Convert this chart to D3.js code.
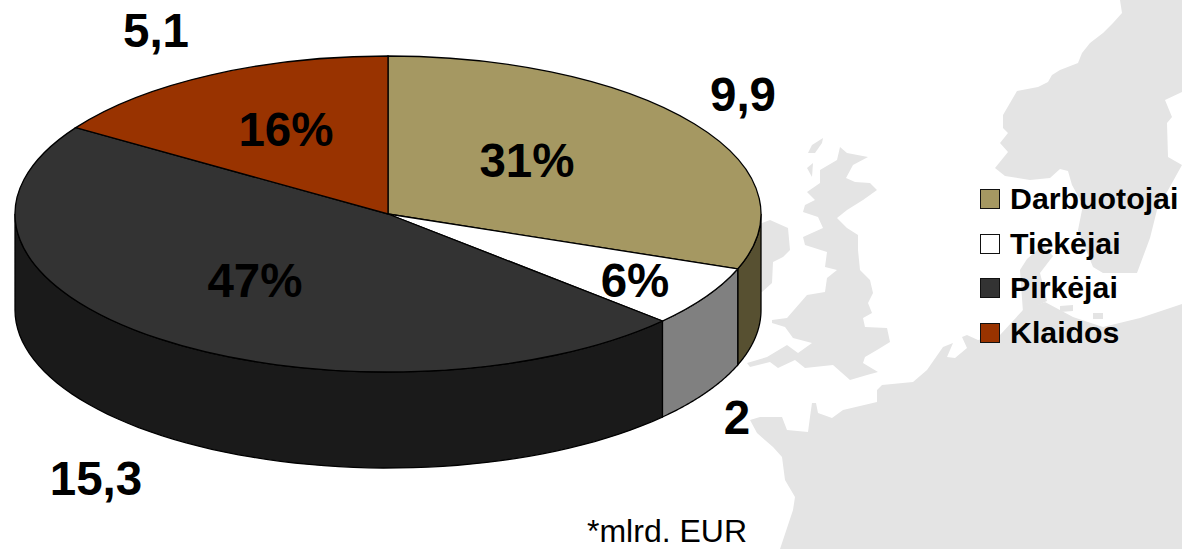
<!DOCTYPE html>
<html lang="lt">
<head>
<meta charset="utf-8">
<title>Darbuotojai, tiekėjai, pirkėjai, klaidos</title>
<script src="https://cdn.jsdelivr.net/npm/d3@7"></script>
<style>
  html, body { margin: 0; padding: 0; background: #fff; overflow: hidden; }
  svg { display: block; }
  text { font-family: "Liberation Sans", Arial, sans-serif; fill: #000; }
</style>
</head>
<body>
<div id="chart"></div>
<script>
// *** DATA ***
const categories = ["Darbuotojai", "Tiekėjai", "Pirkėjai", "Klaidos"];
const values = [9.9, 2, 15.3, 5.1];
const footnote = "*mlrd. EUR";

// *** CHART SETTINGS ***
const width = 1182, height = 549;

//Pie geometry
const cx = 388, cy = 214, rx = 373, ry = 158, depth = 96;

//Colors
const topColors = ["#a59862", "#ffffff", "#333333", "#993300"];
const sideColors = ["#575031", "#808080", "#1a1a1a", "#4d1a00"];
const mapColor = "#e4e4e4";

//Hand placed labels, same order as categories
const percentPos = [[527, 177], [635, 297], [255, 297], [286, 146]];
const valuePos = [[743, 111], [737, 434], [96, 495], [156, 47]];

//Legend position
const lgLeft = 980, lgTop = 189, lgStep = 44.7, lgBox = 20;

//Background map outlines (decoration only)
const landOutlines = [
  // Scandinavia
  [[1120,0],[1122,13],[1113,23],[1103,33],[1090,43],[1082,53],[1078,63],[1060,70],[1052,75],[1048,82],[1038,87],[1017,91],[1010,103],[1003,115],[1003,128],[1008,133],[1000,143],[1008,152],[995,168],[1005,176],[1030,180],[1050,178],[1060,169],[1068,171],[1072,185],[1083,205],[1078,230],[1093,267],[1103,273],[1137,273],[1150,238],[1157,210],[1182,165],[1168,157],[1167,123],[1172,117],[1165,100],[1182,92],[1182,0]],
  // Jutland and islands
  [[1043,245],[1053,256],[1040,273],[1047,301],[1023,312],[1020,270],[1027,259]],
  [[1060,306],[1073,305],[1073,311],[1060,312]],
  [[1093,313],[1103,313],[1103,319],[1093,319]],
  // Mainland
  [[780,549],[793,510],[795,497],[785,480],[782,457],[773,447],[757,433],[750,420],[760,417],[782,417],[787,430],[808,432],[810,417],[812,403],[816,403],[818,413],[832,418],[843,410],[877,402],[877,390],[882,385],[913,382],[927,370],[943,347],[953,343],[947,357],[955,358],[967,348],[962,337],[967,335],[978,340],[1000,335],[1023,310],[1045,302],[1073,317],[1103,327],[1140,318],[1182,304],[1182,549]],
  // Great Britain
  [[840,147],[847,153],[868,157],[853,165],[846,178],[855,182],[870,183],[877,190],[863,200],[847,210],[837,218],[847,228],[858,235],[858,250],[860,270],[870,280],[873,293],[868,303],[872,313],[863,318],[865,327],[887,328],[890,342],[877,350],[865,357],[863,363],[878,372],[867,375],[850,380],[833,365],[805,368],[795,360],[778,368],[770,362],[750,367],[747,363],[767,357],[787,345],[798,353],[812,343],[793,338],[785,327],[772,323],[772,320],[787,318],[807,295],[825,292],[827,278],[837,270],[825,267],[827,252],[805,245],[803,237],[823,228],[818,217],[803,212],[805,205],[815,200],[807,192],[820,183],[820,170],[837,160]],
  // Hebrides
  [[808,153],[812,145],[823,138],[822,143],[815,153]],
  [[807,168],[813,163],[812,177]],
  // Ireland
  [[740,225],[762,223],[770,220],[788,228],[790,250],[783,257],[773,262],[772,283],[762,292],[740,300]]
];

// *** END OF SETTINGS ***

let svg = d3.select("#chart")
  .append("svg")
  .attr("width", width)
  .attr("height", height);

//Add map
svg.append("g")
  .attr("class", "map")
  .selectAll("path")
  .data(landOutlines)
  .enter()
  .append("path")
    .attr("d", d3.line().curve(d3.curveLinearClosed))
    .attr("fill", mapColor);

//Pie layout
let total = d3.sum(values);
let arcs = d3.pie().sort(null)(values);
let arc = d3.arc().innerRadius(0).outerRadius(rx);

//Point on the top ellipse for an angle measured clockwise from the top
let ellipseX = a => cx + rx * Math.sin(a);
let ellipseY = a => cy - ry * Math.cos(a);

//Outline of the visible wall of a slice (only the front half of the pie)
function wallPath(d) {
  let a0 = Math.max(d.startAngle, Math.PI / 2);
  let a1 = Math.min(d.endAngle, Math.PI * 1.5);
  if (a1 <= a0) return null;
  let steps = d3.range(0, 61).map(i => a0 + (a1 - a0) * i / 60);
  let top = steps.map(a => [ellipseX(a), ellipseY(a)]);
  let bottom = steps.slice().reverse().map(a => [ellipseX(a), ellipseY(a) + depth]);
  return d3.line().curve(d3.curveLinearClosed)(top.concat(bottom));
}

//Add walls
svg.append("g")
  .attr("class", "walls")
  .selectAll("path")
  .data(arcs)
  .enter()
  .append("path")
    .attr("d", wallPath)
    .attr("fill", (d, i) => sideColors[i])
    .attr("stroke", "#000")
    .attr("stroke-width", 1.3);

//Add top face
svg.append("g")
  .attr("class", "slices")
  .attr("transform", `translate(${cx},${cy}) scale(1,${ry / rx})`)
  .selectAll("path")
  .data(arcs)
  .enter()
  .append("path")
    .attr("d", arc)
    .attr("fill", (d, i) => topColors[i])
    .attr("stroke", "#000")
    .attr("stroke-width", 1.3)
    .attr("vector-effect", "non-scaling-stroke");

//Percent labels
svg.append("g")
  .attr("class", "percents")
  .selectAll("text")
  .data(values)
  .enter()
  .append("text")
    .attr("x", (d, i) => percentPos[i][0])
    .attr("y", (d, i) => percentPos[i][1])
    .attr("text-anchor", "middle")
    .style("font-size", "47.5px")
    .style("font-weight", "700")
    .text(d => d3.format(".0%")(d / total));

//Value labels
svg.append("g")
  .attr("class", "values")
  .selectAll("text")
  .data(values)
  .enter()
  .append("text")
    .attr("x", (d, i) => valuePos[i][0])
    .attr("y", (d, i) => valuePos[i][1])
    .attr("text-anchor", "middle")
    .style("font-size", "47.5px")
    .style("font-weight", "700")
    .text(d => String(d).replace(".", ","));

//Legend
let legend = svg.append("g").attr("class", "legend");

legend.selectAll("rect")
  .data(categories)
  .enter()
  .append("rect")
    .attr("x", lgLeft + 0.5)
    .attr("y", (d, i) => Math.round(lgTop + i * lgStep) + 0.5)
    .attr("width", lgBox - 1)
    .attr("height", lgBox - 1)
    .attr("fill", (d, i) => topColors[i])
    .attr("stroke", "#111")
    .attr("stroke-width", 1);

legend.selectAll("text")
  .data(categories)
  .enter()
  .append("text")
    .attr("x", lgLeft + 30)
    .attr("y", (d, i) => lgTop + i * lgStep + 20)
    .style("font-size", "30.3px")
    .style("font-weight", "700")
    .text(d => d);

//Footnote
svg.append("text")
  .attr("x", 587)
  .attr("y", 542)
  .style("font-size", "32px")
  .text(footnote);
</script>
</body>
</html>
